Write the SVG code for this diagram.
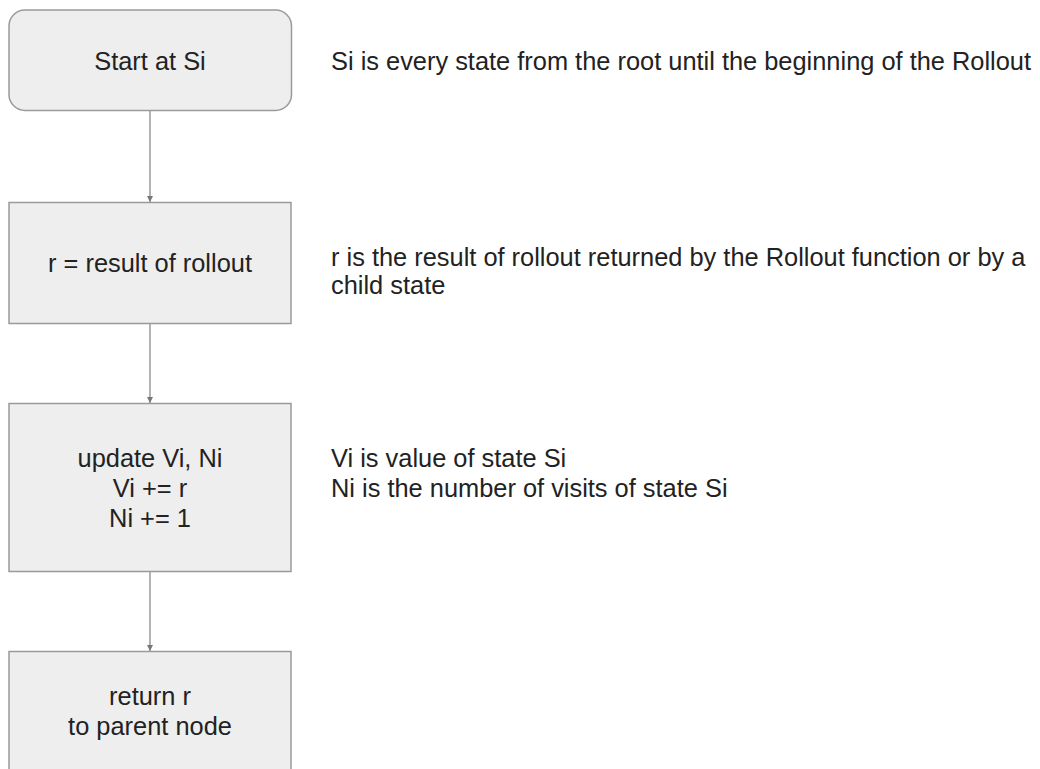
<svg xmlns="http://www.w3.org/2000/svg" width="1040" height="769" viewBox="0 0 1040 769">
  <style>
    .box { fill: #eeeeee; stroke: #9a9a9a; stroke-width: 1.5; }
    .lbl { font-family: "Liberation Sans", Arial, sans-serif; font-size: 25.4px; fill: #222222; }
    .mid { text-anchor: middle; }
    .edge { stroke: #9a9a9a; stroke-width: 1.5; fill: none; marker-end: url(#head); }
  </style>
  <defs>
    <marker id="head" markerWidth="8" markerHeight="8" refX="6" refY="3" orient="auto" markerUnits="userSpaceOnUse">
      <path d="M0,0 L6,3 L0,6 Z" fill="#777777"/>
    </marker>
  </defs>
  <rect width="1040" height="769" fill="#ffffff"/>

  <!-- flow connectors -->
  <g id="connectors">
    <line class="edge" x1="150" y1="111" x2="150" y2="202"/>
    <line class="edge" x1="150" y1="323" x2="150" y2="403"/>
    <line class="edge" x1="150" y1="572" x2="150" y2="651"/>
  </g>

  <g id="node-start">
    <rect class="box" x="9" y="10" width="282.5" height="100.5" rx="16" ry="16"/>
    <text class="lbl mid" x="150" y="70">Start at Si</text>
  </g>

  <g id="node-result">
    <rect class="box" x="9" y="202.5" width="282" height="121"/>
    <text class="lbl mid" x="150" y="271.5">r = result of rollout</text>
  </g>

  <g id="node-update">
    <rect class="box" x="9" y="403.5" width="282" height="168"/>
    <text class="lbl mid" x="150" y="466.5">update Vi, Ni</text>
    <text class="lbl mid" x="150" y="496.5">Vi += r</text>
    <text class="lbl mid" x="150" y="526.5">Ni += 1</text>
  </g>

  <g id="node-return">
    <rect class="box" x="9" y="651.5" width="282" height="130"/>
    <text class="lbl mid" x="150" y="705">return r</text>
    <text class="lbl mid" x="150" y="735">to parent node</text>
  </g>

  <!-- side notes -->
  <g id="note-start">
    <text class="lbl" x="331" y="70">Si is every state from the root until the beginning of the Rollout</text>
  </g>
  <g id="note-result">
    <text class="lbl" x="331" y="266">r is the result of rollout returned by the Rollout function or by a</text>
    <text class="lbl" x="331" y="294">child state</text>
  </g>
  <g id="note-update">
    <text class="lbl" x="331" y="467">Vi is value of state Si</text>
    <text class="lbl" x="331" y="497">Ni is the number of visits of state Si</text>
  </g>
</svg>
